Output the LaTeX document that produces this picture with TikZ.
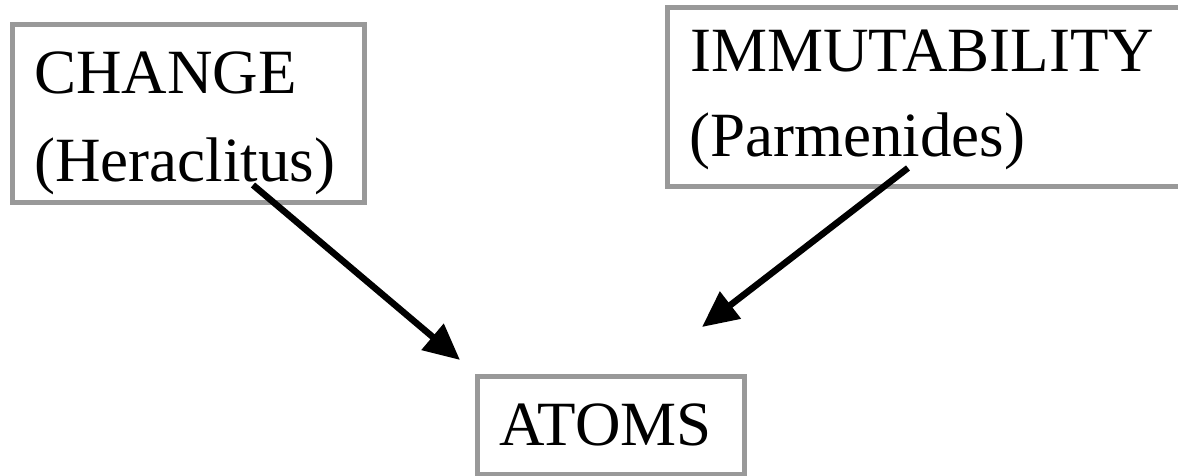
\documentclass[tikz,border=0pt]{standalone}
\usepackage{fontspec}
\setmainfont{Liberation Serif}
\usetikzlibrary{arrows.meta}
\begin{document}
\begin{tikzpicture}[x=1pt,y=-1pt,
  box/.style={draw=boxgray,line width=5pt,inner sep=0pt},
  lbl/.style={inner sep=0pt,anchor=base west,font=\fontsize{63}{75}\selectfont},
  arr/.style={line width=6.5pt,-{Triangle[length=36pt,width=33pt]}}]
\definecolor{boxgray}{HTML}{999999}
\useasboundingbox (0,0) rectangle (1178,476);
\fill[white] (0,0) rectangle (1178,476);
% boxes
\draw[box] (12.5,24.5) rectangle (364.5,202.5);
\draw[box] (667.5,7.5) rectangle (1200,186.5);
\draw[box] (477.5,376) rectangle (744.5,474);
% texts
\node[lbl] (change) at (34,94) {CHANGE};
\node[lbl] (hera) at (34,182) {(Heraclitus)};
\node[lbl] (immut) at (690,72) {IMMUTABILITY};
\node[lbl] (parm) at (689,157) {(Parmenides)};
\node[lbl] (atoms) at (499,445) {ATOMS};
% connectors
\coordinate (s1) at (253,185);
\coordinate (t1) at (460,360);
\coordinate (s2) at (908,168);
\coordinate (t2) at (702,327);
\draw[arr] (s1) -- (t1);
\draw[arr] (s2) -- (t2);
\end{tikzpicture}
\end{document}
